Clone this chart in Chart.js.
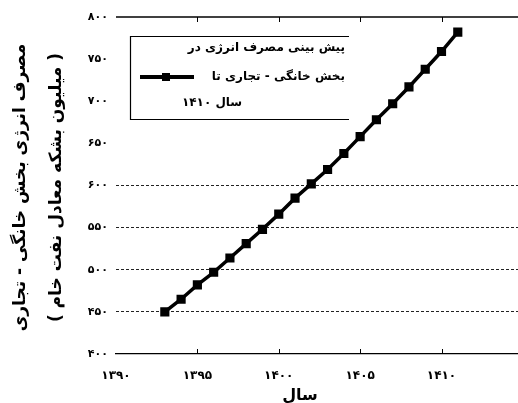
<!DOCTYPE html>
<html>
<head>
<meta charset="utf-8">
<script src="https://cdn.jsdelivr.net/npm/chart.js@4.4.0/dist/chart.umd.min.js"></script>
<style>
  html, body { margin: 0; padding: 0; background: #fff; overflow: hidden; }
  canvas { display: block; }
</style>
</head>
<body>
<canvas id="energyChart" width="518" height="403"></canvas>
<script>
'use strict';

// data
var years = [1393, 1394, 1395, 1396, 1397, 1398, 1399, 1400, 1401, 1402,
             1403, 1404, 1405, 1406, 1407, 1408, 1409, 1410, 1411];
var consumption = [450, 465, 482, 497, 514, 531, 548, 566, 585, 602,
                   619, 638, 658, 678, 697, 717, 738, 759, 782];
var xTicks = [1390, 1395, 1400, 1405, 1410];
var yTicks = [400, 450, 500, 550, 600, 650, 700, 750, 800];
var yTitle = ['مصرف انرژی بخش خانگی - تجاری', '( میلیون بشکه معادل نفت خام )'];
var xTitle = 'سال';
var legendLines = ['پیش بینی مصرف انرژی در', 'بخش خانگی - تجاری تا', 'سال ۱۴۱۰'];

var FONT = '"DejaVu Sans", sans-serif';

function toFa(n) {
    return String(n).replace(/\d/g, function (d) { return '۰۱۲۳۴۵۶۷۸۹'[d]; });
}

var points = years.map(function (y, i) { return { x: y, y: consumption[i] }; });

var decorations = {
    id: 'decorations',
    afterDraw: function (chart) {
        var ctx = chart.ctx;
        var area = chart.chartArea;
        var xs = chart.scales.x;
        ctx.save();
        ctx.strokeStyle = '#000';
        ctx.fillStyle = '#000';

        // top frame line
        ctx.lineWidth = 1.3;
        ctx.beginPath();
        ctx.moveTo(area.left, area.top);
        ctx.lineTo(area.right, area.top);
        ctx.stroke();

        // small inner ticks on top and bottom lines
        ctx.lineWidth = 1;
        xTicks.slice(1).forEach(function (v) {
            var px = Math.round(xs.getPixelForValue(v)) + 0.5;
            ctx.beginPath();
            ctx.moveTo(px, area.bottom);
            ctx.lineTo(px, area.bottom - 5);
            ctx.moveTo(px, area.top);
            ctx.lineTo(px, area.top + 5);
            ctx.stroke();
        });

        // y axis titles (two rotated lines)
        ctx.direction = 'rtl';
        ctx.textAlign = 'center';
        ctx.textBaseline = 'middle';
        ctx.font = 'bold 17px ' + FONT;
        var cy = (area.top + area.bottom) / 2 + 2;
        [21, 57].forEach(function (cx, i) {
            ctx.save();
            ctx.translate(cx, cy);
            ctx.rotate(-Math.PI / 2);
            ctx.fillText(yTitle[i], 0, 0);
            ctx.restore();
        });

        // x axis title
        ctx.font = 'bold 16px ' + FONT;
        ctx.fillText(xTitle, 300, 396);

        // legend box (no right edge)
        var bx0 = 130, bx1 = 349, by0 = 36, by1 = 119;
        ctx.fillStyle = '#fff';
        ctx.fillRect(bx0, by0, bx1 - bx0, by1 - by0);
        ctx.fillStyle = '#000';
        ctx.lineWidth = 1.2;
        ctx.beginPath();
        ctx.moveTo(bx1, by0 + 0.5);
        ctx.lineTo(bx0 + 0.5, by0 + 0.5);
        ctx.lineTo(bx0 + 0.5, by1 + 0.5);
        ctx.lineTo(bx1, by1 + 0.5);
        ctx.stroke();

        ctx.font = 'bold 12px ' + FONT;
        ctx.textAlign = 'right';
        ctx.fillText(legendLines[0], 345, 48);
        ctx.fillText(legendLines[1], 345, 77);
        ctx.textAlign = 'center';
        ctx.fillText(legendLines[2], 212, 103);

        // legend line sample
        ctx.lineWidth = 4;
        ctx.beginPath();
        ctx.moveTo(140, 77);
        ctx.lineTo(194, 77);
        ctx.stroke();
        ctx.fillRect(162, 73, 8, 8);

        ctx.restore();
    }
};

new Chart(document.getElementById('energyChart'), {
    type: 'line',
    data: {
        datasets: [{
            label: legendLines.join(' '),
            data: points,
            borderColor: '#000',
            backgroundColor: '#000',
            borderWidth: 3.5,
            pointStyle: 'rect',
            pointRadius: 4,
            pointBackgroundColor: '#000',
            pointBorderColor: '#000',
            tension: 0,
            clip: false
        }]
    },
    options: {
        responsive: false,
        animation: false,
        events: [],
        layout: { autoPadding: false, padding: { left: 0, right: 0, top: 17, bottom: 0 } },
        plugins: {
            legend: { display: false },
            tooltip: { enabled: false }
        },
        scales: {
            x: {
                type: 'linear',
                min: 1390,
                max: 1414.7,
                afterBuildTicks: function (scale) {
                    scale.ticks = xTicks.map(function (v) { return { value: v }; });
                },
                afterFit: function (scale) {
                    scale.height = 49;
                    scale.paddingLeft = 0;
                    scale.paddingRight = 0;
                },
                grid: { display: false, drawTicks: false },
                border: { display: true, color: '#000', width: 1.3 },
                ticks: {
                    padding: 15,
                    color: '#000',
                    maxRotation: 0,
                    font: { family: FONT, size: 12, weight: 'bold' },
                    callback: function (v) { return toFa(v); }
                }
            },
            y: {
                min: 400,
                max: 800,
                afterBuildTicks: function (scale) {
                    scale.ticks = yTicks.map(function (v) { return { value: v }; });
                },
                afterFit: function (scale) { scale.width = 116; },
                grid: {
                    drawTicks: false,
                    lineWidth: 1,
                    color: function (c) {
                        var v = c.tick && c.tick.value;
                        return (v >= 450 && v <= 600) ? '#222' : 'rgba(0,0,0,0)';
                    }
                },
                border: { display: false, dash: [3, 2] },
                ticks: {
                    padding: 8,
                    color: '#000',
                    font: { family: FONT, size: 11, weight: 'bold' },
                    callback: function (v) { return toFa(v); }
                }
            }
        }
    },
    plugins: [decorations]
});
</script>
</body>
</html>
